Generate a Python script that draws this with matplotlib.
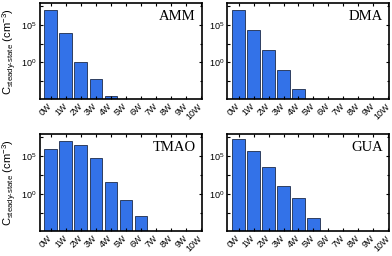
import numpy as np
import matplotlib
matplotlib.use("Agg")
import matplotlib.pyplot as plt
import matplotlib.transforms as mtransforms
from matplotlib.ticker import FixedLocator, LogFormatterSciNotation, NullFormatter

categories = ["0W", "1W", "2W", "3W", "4W", "5W", "6W", "7W", "8W", "9W", "10W"]
amm = [1.0e7, 8.0e3, 1.2, 6.0e-3, 3.0e-5, 0, 0, 0, 0, 0, 0]
dma = [1.1e7, 2.3e4, 40, 8.5e-2, 2.5e-4, 0, 0, 0, 0, 0, 0]
tmao = [7.0e5, 8.0e6, 3.0e6, 6.0e4, 37, 0.14, 1.0e-3, 0, 0, 0, 0]
gua = [1.7e7, 3.8e5, 3.0e3, 10, 0.27, 5.6e-4, 0, 0, 0, 0, 0]
panel_names = ["AMM", "DMA", "TMAO", "GUA"]

plt.rcParams['font.family'] = ['Liberation Sans', 'DejaVu Sans']
plt.rcParams['mathtext.fontset'] = 'custom'
plt.rcParams['mathtext.rm'] = 'Liberation Sans'
plt.rcParams['mathtext.it'] = 'Liberation Sans'

fig = plt.figure(figsize=(3.92, 2.56), dpi=100)
positions = [
    [0.101, 0.612, 0.414, 0.375],
    [0.580, 0.612, 0.413, 0.375],
    [0.101, 0.097, 0.414, 0.380],
    [0.580, 0.097, 0.413, 0.380],
]
series = [amm, dma, tmao, gua]
bar_color = "#3372e8"
x = np.arange(len(categories))

for i, (pos, vals, name) in enumerate(zip(positions, series, panel_names)):
    ax = fig.add_axes(pos)
    v = np.array(vals, dtype=float)
    v[v <= 0] = np.nan
    ax.set_yscale('log')
    ax.bar(x, v, width=0.85, color=bar_color, edgecolor="#1e2c4a",
           linewidth=0.6, bottom=1e-30)
    ax.set_ylim(1.1e-5, 8e7)
    ax.set_xlim(-0.75, 10.06)
    ax.yaxis.set_major_locator(FixedLocator([1e0, 1e5]))
    ax.yaxis.set_major_formatter(LogFormatterSciNotation())
    ax.yaxis.set_minor_locator(FixedLocator([10**-2.5, 10**2.5, 10**7.5]))
    ax.yaxis.set_minor_formatter(NullFormatter())
    ax.set_xticks(x)
    ax.set_xticklabels(categories, rotation=45, ha='right', va='center',
                       rotation_mode='anchor', fontsize=6.5)
    offset = mtransforms.ScaledTranslation(-2.5 / 100, 0, fig.dpi_scale_trans)
    for lab in ax.get_xticklabels():
        lab.set_transform(lab.get_transform() + offset)
    ax.tick_params(axis='both', which='both', direction='in', top=True,
                   right=True, length=2.5, width=0.8, labelsize=6.5, pad=2)
    ax.tick_params(axis='x', pad=4)
    ax.tick_params(axis='y', which='minor', length=1.8)
    for sp in ax.spines.values():
        sp.set_linewidth(1.2)
    ax.text(0.96, 0.86, name, transform=ax.transAxes, ha='right', va='center',
            fontsize=10.5, family=['Liberation Serif', 'DejaVu Serif'])
    if i % 2 == 0:
        ax.set_ylabel('$C_{\\mathrm{steady\u2010state}}$ (cm$^{-3}$)',
                      fontsize=8, labelpad=2)

fig.savefig("out.png", dpi=100)
